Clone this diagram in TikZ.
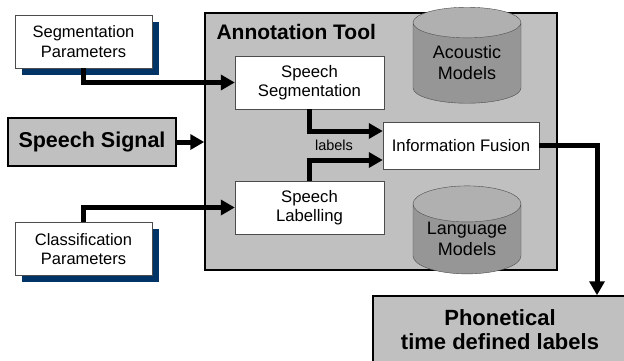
\documentclass[tikz,border=0pt]{standalone}
\usepackage{fontspec}
\setmainfont{Liberation Sans}
\usetikzlibrary{shapes.geometric,shadows,arrows.meta}

\definecolor{toolgray}{RGB}{192,192,192}
\definecolor{navyshadow}{RGB}{0,51,102}
\definecolor{cylbody}{RGB}{150,150,150}
\definecolor{cyltop}{RGB}{176,176,176}

\tikzstyle{parbox}=[rectangle, draw=black!70, fill=white, inner sep=2pt, align=center,
  minimum width=137pt, minimum height=53pt, font=\fontsize{16.5}{19.5}\selectfont,
  general shadow={fill=navyshadow, shadow xshift=6.5pt, shadow yshift=-6.5pt}]
\tikzstyle{procbox}=[rectangle, draw=black!70, fill=white, inner sep=2pt, align=center,
  font=\fontsize{16.7}{19.5}\selectfont]
\tikzstyle{graybox}=[rectangle, draw, line width=1.5pt, fill=toolgray, inner sep=2pt,
  align=center, font=\bfseries\fontsize{21.5}{24}\selectfont]
\tikzstyle{dbase}=[cylinder, shape border rotate=90, aspect=0.45, draw=black!70,
  cylinder uses custom fill, cylinder body fill=cylbody, cylinder end fill=cyltop,
  minimum width=108pt, minimum height=96pt, inner sep=0pt, align=center,
  font=\fontsize{18}{21}\selectfont]
\tikzstyle{flow}=[line width=5pt, -{Triangle[length=14pt,width=15pt]}]

\begin{document}
\begin{tikzpicture}[x=1pt,y=-1pt]
\useasboundingbox (0,0) rectangle (624,360);

\node[rectangle, draw, line width=1.5pt, fill=toolgray, minimum width=352pt,
  minimum height=257pt] (tool) at (381,141.5) {};
\node[anchor=west, font=\bfseries\fontsize{21}{24}\selectfont] (tooltitle) at (213,32) {Annotation Tool};

\node[dbase] (acoustic) at (467,63) {Acoustic\\Models};
\node[dbase, minimum height=88pt] (language) at (467,239) {Language\\Models};

\node[procbox, minimum width=149pt, minimum height=53pt] (segm) at (309.5,82.5) {Speech\\Segmentation};
\node[procbox, minimum width=149pt, minimum height=53pt] (labl) at (309.5,207.5) {Speech\\Labelling};
\node[procbox, minimum width=156pt, minimum height=47pt] (fusion) at (461,145.5) {Information Fusion};

\node[parbox] (segpar) at (83.5,41.5) {Segmentation\\Parameters};
\node[parbox] (classpar) at (83.5,249) {Classification\\Parameters};

\node[graybox, minimum width=168pt, minimum height=48pt] (signal) at (92,142) {Speech Signal};
\node[graybox, minimum width=254pt, minimum height=68pt, font=\bfseries\fontsize{22}{24}\selectfont] (phon) at (500,330) {Phonetical\\time defined labels};

\node[font=\fontsize{14.5}{17}\selectfont] (lbl) at (334,145) {labels};

\draw[flow] (segpar.south) |- (segm.west);
\draw[flow] (classpar.north) |- (labl.west);
\draw[flow] (signal.east) -- (signal.east -| tool.west);
\draw[flow] (segm.south) |- ([yshift=14.5pt]fusion.west);
\draw[flow] (labl.north) |- ([yshift=-14.5pt]fusion.west);
\draw[flow] (fusion.east) -| ([xshift=97pt]phon.north);
\end{tikzpicture}
\end{document}
